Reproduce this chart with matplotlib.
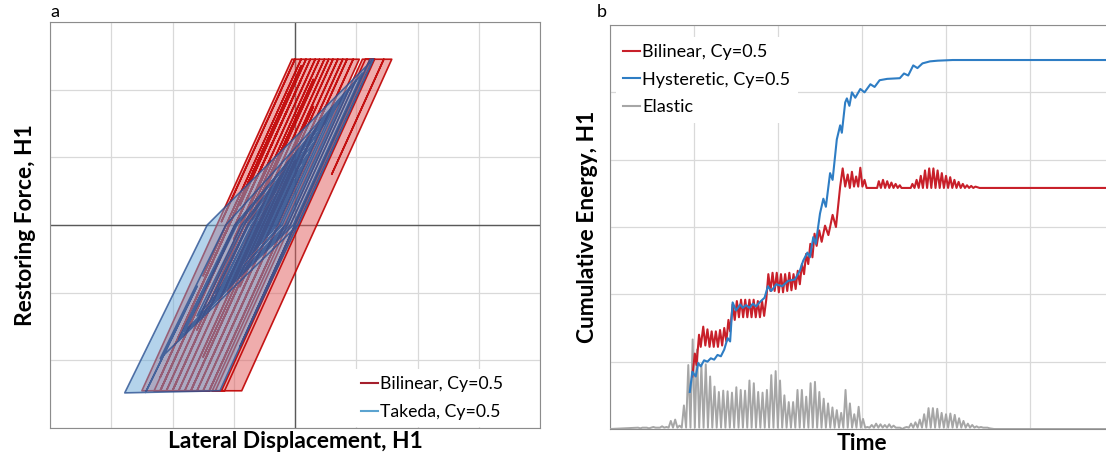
import numpy as np
import matplotlib.pyplot as plt
from matplotlib.lines import Line2D

plt.rcParams['font.family'] = ['Lato', 'DejaVu Sans']

# hysteresis model constants (grid units)
K0 = 2.0
FY = 2.45
DY = FY / K0

# displacement reversal points of the two SDOF models, H1 component
bilinear_reversals = [0.4, -0.5, 0.8, -0.7, 1.1, -0.9, 1.3, -1.3, 1.25, -1.35, 1.45, 0.6,
                      1.58, -1.4, -0.2, -1.7, 0.0, -2.0, 0.3, -2.2, 0.1, -2.5, 0.0, -1.2,
                      0.1, -1.5, 0.18, -0.9, 0.25, -1.4, 0.33, -1.0, 0.4, -1.6, 0.48, -0.7,
                      0.55, -1.3, 0.62, -1.1, 0.7, -1.5, 0.78, -0.9, 0.85, -1.4, 0.95, -1.2,
                      1.05, -1.5, 0.2, -1.6, 0.5, -1.7, 0.0, -1.8, 0.3, -1.9, -0.2, -2.0,
                      0.1, -2.1, -0.4, -2.2, 0.0, -2.3, -0.3, -2.2, 0.1, -1.5, -0.1, -1.9,
                      -0.3, -1.2, -0.5, -0.9]
takeda_reversals = [0.3, -0.4, 0.7, -0.6, 1.0, -0.9, 1.28, -2.44, -1.6, -2.78, 1.28, -1.9,
                    0.9, -2.2, 1.0, -1.6, 0.6, -1.9, 0.8, -1.3, 1.1, -1.8, 0.5, -1.4, 0.7,
                    -1.6, 0.3, -1.2, 0.5, -1.0, 0.2, -1.3, 0.4, -0.9, 0.1, -1.1, 0.3, -0.8,
                    0.0, -1.0, 0.2, -0.7, -0.1, -0.9, 0.1, -0.6, -0.2, -0.8, 0.0, -0.5,
                    -0.3, -0.7, -0.1, -0.9, 0.05, -0.75, -0.25, -1.05, -0.05, -0.65, -0.35,
                    -0.95, 0.0, -0.55, -0.15, -0.85, -0.4, -0.7, -0.3, -0.5]

# cumulative energy vs time
bilinear_t = [0.98, 1.01, 1.03, 1.06, 1.08, 1.11, 1.135, 1.16, 1.185, 1.21, 1.235, 1.26,
              1.285, 1.31, 1.335, 1.36, 1.385, 1.41, 1.43, 1.46, 1.485, 1.51, 1.535, 1.56,
              1.585, 1.61, 1.635, 1.66, 1.685, 1.71, 1.735, 1.76, 1.785, 1.81, 1.835, 1.86,
              1.885, 1.91, 1.935, 1.96, 1.985, 2.01, 2.035, 2.06, 2.085, 2.11, 2.135, 2.16,
              2.185, 2.21, 2.235, 2.26, 2.285, 2.31, 2.335, 2.36, 2.385, 2.41, 2.435, 2.46,
              2.49, 2.52, 2.56, 2.60, 2.65, 2.69, 2.74, 2.77, 2.80, 2.83, 2.855, 2.88, 2.905,
              2.93, 2.955, 2.98, 3.005, 3.03, 3.055, 3.18, 3.20, 3.225, 3.25, 3.275, 3.30,
              3.325, 3.35, 3.375, 3.40, 3.425, 3.45, 3.47, 3.58, 3.60, 3.625, 3.65, 3.675,
              3.70, 3.725, 3.75, 3.775, 3.80, 3.825, 3.85, 3.875, 3.90, 3.925, 3.95, 3.975,
              4.0, 4.025, 4.05, 4.075, 4.10, 4.125, 4.15, 4.175, 4.20, 4.225, 4.25, 4.275,
              4.30, 4.325, 4.35, 4.40, 6.2]
bilinear_e = [0.78, 1.12, 0.95, 1.40, 1.22, 1.52, 1.24, 1.48, 1.22, 1.45, 1.22, 1.45,
              1.22, 1.47, 1.24, 1.50, 1.30, 1.62, 1.45, 1.85, 1.62, 1.90, 1.66, 1.92, 1.66,
              1.92, 1.66, 1.92, 1.66, 1.92, 1.66, 1.90, 1.66, 1.90, 1.68, 1.92, 2.30, 2.05,
              2.32, 2.05, 2.32, 2.03, 2.30, 2.03, 2.30, 2.05, 2.32, 2.06, 2.30, 2.08, 2.35,
              2.15, 2.45, 2.30, 2.60, 2.45, 2.75, 2.55, 2.90, 2.72, 2.95, 2.78, 3.02, 2.88,
              3.18, 3.00, 3.60, 3.87, 3.60, 3.78, 3.58, 3.82, 3.60, 3.75, 3.60, 3.88, 3.60,
              3.70, 3.58, 3.58, 3.68, 3.58, 3.70, 3.58, 3.68, 3.58, 3.66, 3.58, 3.64, 3.58,
              3.62, 3.58, 3.58, 3.64, 3.58, 3.70, 3.58, 3.76, 3.58, 3.84, 3.58, 3.87, 3.58,
              3.87, 3.58, 3.84, 3.58, 3.80, 3.58, 3.76, 3.58, 3.74, 3.58, 3.70, 3.58, 3.67,
              3.58, 3.64, 3.58, 3.62, 3.58, 3.61, 3.58, 3.60, 3.58, 3.58]
hyst_t = [0.95, 0.98, 1.02, 1.05, 1.08, 1.12, 1.16, 1.2, 1.24, 1.28, 1.32, 1.36, 1.40, 1.43,
          1.46, 1.50, 1.55, 1.58, 1.62, 1.66, 1.70, 1.74, 1.78, 1.84, 1.88, 1.92, 1.98, 2.05,
          2.12, 2.20, 2.26, 2.30, 2.35, 2.38, 2.42, 2.45, 2.50, 2.54, 2.57, 2.62, 2.65, 2.70,
          2.74, 2.76, 2.80, 2.82, 2.85, 2.88, 2.92, 2.98, 3.03, 3.10, 3.15, 3.21, 3.30, 3.45,
          3.50, 3.55, 3.61, 3.66, 3.72, 3.81, 3.90, 4.08, 6.2]
hyst_e = [0.55, 0.85, 0.78, 0.98, 0.93, 1.02, 1.00, 1.05, 1.03, 1.10, 1.08, 1.18, 1.35, 1.30,
          1.88, 1.76, 1.85, 1.80, 1.84, 1.80, 1.86, 1.82, 1.88, 1.95, 2.12, 2.05, 2.15, 2.12,
          2.20, 2.22, 2.35, 2.50, 2.62, 2.55, 2.85, 2.75, 3.20, 3.42, 3.30, 3.80, 3.70, 4.30,
          4.51, 4.40, 4.85, 4.91, 4.80, 5.00, 4.92, 5.05, 5.00, 5.12, 5.08, 5.18, 5.20, 5.21,
          5.28, 5.25, 5.40, 5.36, 5.43, 5.46, 5.47, 5.48, 5.48]
elastic_t0 = 0.36
elastic_dt = 0.052
elastic_peaks = [0.01, 0.02, 0.01, 0.03, 0.02, 0.04, 0.03, 0.12, 0.14, 0.05,
                 0.35, 0.95, 1.33, 1.18, 0.95, 0.96, 0.78, 0.63, 0.55, 0.57, 0.56, 0.54,
                 0.62, 0.58, 0.57, 0.72, 0.68, 0.55, 0.54, 0.58, 0.80, 0.86, 0.72, 0.50,
                 0.40, 0.40, 0.58, 0.58, 0.48, 0.68, 0.70, 0.55, 0.45, 0.38, 0.32, 0.28,
                 0.24, 0.58, 0.38, 0.22, 0.33, 0.15,
                 0.03, 0.06, 0.08, 0.07, 0.06, 0.07, 0.05, 0.02, 0.0,
                 0.03, 0.08, 0.10, 0.14, 0.22, 0.31, 0.31, 0.30, 0.24, 0.22, 0.23, 0.21,
                 0.16, 0.12, 0.08, 0.06, 0.04, 0.03, 0.02, 0.01]


def bilinear_path(reversals):
    # elastic-perfectly-plastic force history
    xs, fs = [0.0], [0.0]
    x, f = 0.0, 0.0
    for target in reversals:
        s = 1 if target > x else -1
        x_y = x + (s * FY - f) / K0
        if (target - x_y) * s > 0:
            xs += [x_y, target]
            fs += [s * FY, s * FY]
            f = s * FY
        else:
            f = f + K0 * (target - x)
            xs.append(target)
            fs.append(f)
        x = target
    return xs, fs


def takeda_path(reversals, alpha=0.1, r=0.01):
    # Takeda-type rules: degraded unloading, reload toward the last and
    # then the largest peak reached on that side
    xs, fs = [0.0], [0.0]
    x, f = 0.0, 0.0
    peaks = {1: [DY, FY], -1: [-DY, -FY]}
    last = {1: None, -1: None}
    for target in reversals:
        s = 1 if target > x else -1
        peak = peaks[s]
        if f * s < 0:
            ku = K0 * (DY / max(abs(peaks[-s][0]), DY)) ** alpha
            x0 = x - f / ku
            if (target - x0) * s <= 0:
                f = f + ku * (target - x)
                x = target
                xs.append(x)
                fs.append(f)
                continue
            x, f = x0, 0.0
            xs.append(x)
            fs.append(f)
        aims = []
        lp = last[s]
        if lp is not None and (lp[0] - x) * s > 0 and (peak[0] - lp[0]) * s > 1e-6:
            aims.append(lp)
        aims.append(peak)
        done = False
        for ax_, af in aims:
            if (target - ax_) * s <= 0:
                f = f + (af - f) * (target - x) / (ax_ - x)
                x = target
                xs.append(x)
                fs.append(f)
                done = True
                break
            x, f = ax_, af
            xs.append(x)
            fs.append(f)
        if not done:
            f = s * FY + r * K0 * (target - s * DY)
            x = target
            xs.append(x)
            fs.append(f)
            peaks[s] = [x, f]
        if f * s > 0:
            last[s] = (x, f)
    return xs, fs


def add_legend(ax, handles, labels, x_px, y_px, size, spacing):
    leg = ax.legend(handles, labels, loc='upper left', bbox_to_anchor=(x_px / W, 1 - y_px / H),
                    bbox_transform=fig.transFigure, borderaxespad=0, fontsize=size,
                    handlelength=0.95, handletextpad=0.1, labelspacing=spacing,
                    frameon=True, fancybox=False, borderpad=0.4)
    leg.get_frame().set_facecolor('white')
    leg.get_frame().set_edgecolor('none')
    leg.get_frame().set_alpha(1)
    return leg


fig = plt.figure(figsize=(11.06, 4.63), dpi=100)
W, H = 1106, 463
ax1 = fig.add_axes([50 / W, 35 / H, 490 / W, 406 / H])
ax2 = fig.add_axes([610 / W, 34 / H, 504 / W, 404 / H])

grid_c = '#d9d9d9'
spine_c = '#8c8c8c'

# --- panel a: force-displacement loops
bx, bf = bilinear_path(bilinear_reversals)
tx, tf = takeda_path(takeda_reversals)

ax1.fill(bx, bf, color='#e05a5a', alpha=0.5, lw=0, zorder=2)
ax1.plot(bx, bf, color='#c00000', lw=1.2, alpha=0.9, zorder=3)
ax1.fill(tx, tf, color='#6aa9d8', alpha=0.5, lw=0, zorder=4)
ax1.plot(tx, tf, color='#2b5192', lw=1.2, alpha=0.8, zorder=5)

ax1.set_xlim(-4, 4)
ax1.set_ylim(-3, 3)
ax1.set_xticks(np.arange(-4, 5, 1))
ax1.set_yticks(np.arange(-3, 4, 1))
ax1.grid(True, color=grid_c, lw=0.9, zorder=0)
ax1.axhline(0, color='#595959', lw=1, zorder=1)
ax1.axvline(0, color='#595959', lw=1, zorder=1)
ax1.tick_params(length=0, labelbottom=False, labelleft=False)
for sp in ax1.spines.values():
    sp.set_color(spine_c)
ax1.set_axisbelow(True)
ax1.set_xlabel('Lateral Displacement, H1', fontsize=16.4, fontweight='bold', labelpad=2)
ax1.set_ylabel('Restoring Force, H1', fontsize=16.4, fontweight='bold', labelpad=10)

h1 = [Line2D([], [], color='#a51f2d', lw=1.5), Line2D([], [], color='#5ba3d0', lw=1.5)]
add_legend(ax1, h1, ['Bilinear, Cy=0.5', 'Takeda, Cy=0.5'], 354, 369, 12.7, 0.67)

# --- panel b: energy histories
et = [0.0]
ee = [0.0]
for i, p in enumerate(elastic_peaks):
    tp = elastic_t0 + i * elastic_dt
    et += [tp - elastic_dt / 2, tp]
    ee += [0.02, p]
et += [elastic_t0 + len(elastic_peaks) * elastic_dt, 6.2]
ee += [0.0, 0.0]

ax2.plot(et, ee, color='#a6a6a6', lw=1.4, zorder=3)
ax2.plot(bilinear_t, bilinear_e, color='#c8202a', lw=1.5, zorder=4)
ax2.plot(hyst_t, hyst_e, color='#2e7dc4', lw=1.5, zorder=5)

ax2.set_xlim(0, 6)
ax2.set_ylim(0, 6)
ax2.set_xticks(np.arange(0, 7, 1))
ax2.set_yticks(np.arange(0, 7, 1))
ax2.grid(True, color=grid_c, lw=0.9, zorder=0)
ax2.tick_params(length=0, labelbottom=False, labelleft=False)
for sp in ax2.spines.values():
    sp.set_color(spine_c)
ax2.set_axisbelow(True)
ax2.set_xlabel('Time', fontsize=16.4, fontweight='bold', labelpad=3)
ax2.set_ylabel('Cumulative Energy, H1', fontsize=16.4, fontweight='bold', labelpad=9)

h2 = [Line2D([], [], color='#c8202a', lw=1.5), Line2D([], [], color='#2e7dc4', lw=1.5),
      Line2D([], [], color='#a6a6a6', lw=1.5)]
add_legend(ax2, h2, ['Bilinear, Cy=0.5', 'Hysteretic, Cy=0.5', 'Elastic'], 616, 37, 13, 0.64)

fig.text(50 / W, 1 - 12 / H, 'a', fontsize=13, va='center', ha='left')
fig.text(597 / W, 1 - 12 / H, 'b', fontsize=13, va='center', ha='left')

fig.savefig('out.png', dpi=100)
